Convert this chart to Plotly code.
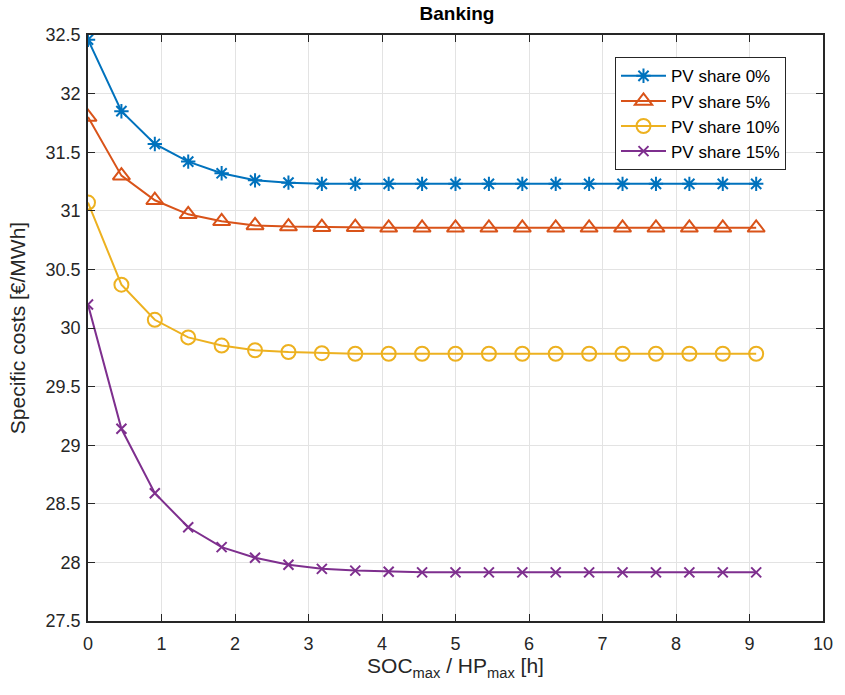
import plotly.graph_objects as go

soc_ratio = [0.0, 0.4545, 0.9091, 1.3636, 1.8182, 2.2727, 2.7273, 3.1818, 3.6364, 4.0909,
             4.5455, 5.0, 5.4545, 5.9091, 6.3636, 6.8182, 7.2727, 7.7273, 8.1818, 8.6364, 9.0909]

pv0 = [32.46, 31.85, 31.57, 31.42, 31.32, 31.26, 31.24, 31.23, 31.23, 31.23,
       31.23, 31.23, 31.23, 31.23, 31.23, 31.23, 31.23, 31.23, 31.23, 31.23, 31.23]
pv5 = [31.80, 31.30, 31.09, 30.97, 30.91, 30.875, 30.865, 30.86, 30.86, 30.855,
       30.855, 30.855, 30.855, 30.855, 30.855, 30.855, 30.855, 30.855, 30.855, 30.855, 30.855]
pv10 = [31.07, 30.37, 30.07, 29.92, 29.85, 29.81, 29.795, 29.785, 29.78, 29.78,
        29.78, 29.78, 29.78, 29.78, 29.78, 29.78, 29.78, 29.78, 29.78, 29.78, 29.78]
pv15 = [30.20, 29.14, 28.59, 28.30, 28.13, 28.04, 27.98, 27.945, 27.93, 27.92,
        27.915, 27.915, 27.915, 27.915, 27.915, 27.915, 27.915, 27.915, 27.915, 27.915, 27.915]

names = ["PV share 0%", "PV share 5%", "PV share 10%", "PV share 15%"]
colors = ["#0072BD", "#D95319", "#EDB120", "#7E2F8E"]
symbols = ["asterisk-open", "triangle-up-open", "circle-open", "x-thin-open"]
sizes = [12, 15, 14, 10]

FONT = "Liberation Sans, Arial, sans-serif"
AX = "#262626"

fig = go.Figure()
for ys, n, c, s, sz in zip([pv0, pv5, pv10, pv15], names, colors, symbols, sizes):
    fig.add_trace(go.Scatter(
        x=soc_ratio, y=ys, name=n, mode="lines+markers",
        line=dict(color=c, width=2),
        marker=dict(symbol=s, size=sz, color=c, line=dict(color=c, width=2)),
    ))

fig.update_layout(
    width=845, height=695,
    margin=dict(l=88, r=19, t=35, b=74),
    paper_bgcolor="white", plot_bgcolor="white",
    font=dict(family=FONT, size=18, color=AX),
    title=dict(text="<b>Banking</b>", x=(88 + 826) / 2 / 845, xanchor="center",
               y=1 - 13 / 695, yanchor="middle", font=dict(size=19, color="#000")),
    showlegend=True,
    legend=dict(x=0.717, y=0.962, xanchor="left", yanchor="top",
                bgcolor="white", bordercolor=AX, borderwidth=1,
                font=dict(size=17, color="#000"), tracegroupgap=0,
                itemwidth=45),
)
fig.update_xaxes(
    range=[0, 10], dtick=1, tick0=0,
    showgrid=True, gridcolor="#e3e3e3", gridwidth=1,
    showline=True, linecolor=AX, linewidth=1.5, mirror="ticks",
    ticks="inside", ticklen=7, tickcolor=AX, zeroline=False,
    tickfont=dict(size=18, color=AX), ticklabelstandoff=6,
    title=dict(text="SOC<sub>max</sub> / HP<sub>max</sub> [h]", standoff=3,
               font=dict(size=21, color=AX)),
)
fig.update_yaxes(
    range=[27.5, 32.5], dtick=0.5, tick0=27.5,
    showgrid=True, gridcolor="#e3e3e3", gridwidth=1,
    showline=True, linecolor=AX, linewidth=1.5, mirror="ticks",
    ticks="inside", ticklen=7, tickcolor=AX, zeroline=False,
    tickfont=dict(size=18, color=AX), ticklabelstandoff=2,
    title=dict(text="Specific costs [€/MWh]", standoff=14,
               font=dict(size=21, color=AX)),
)

fig.write_html("out.html")
